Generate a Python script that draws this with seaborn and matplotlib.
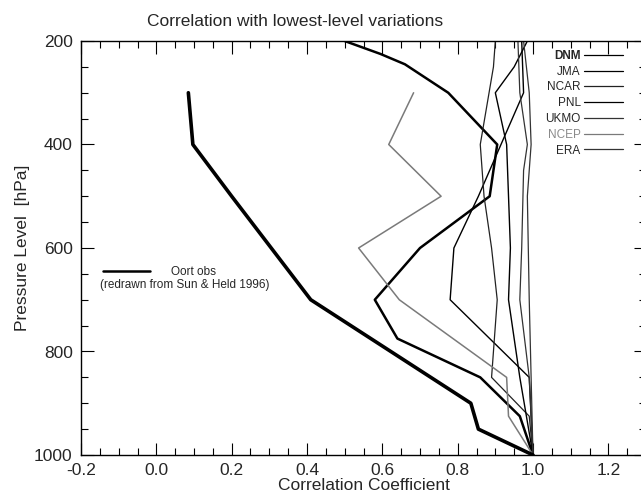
import numpy as np
import pandas as pd
import matplotlib
matplotlib.use("Agg")
import matplotlib.pyplot as plt
from matplotlib.ticker import MultipleLocator, FormatStrFormatter
import seaborn as sns

# correlation of each level with the lowest level (1000 hPa)
oort_p = [300, 400, 500, 700, 900, 950, 1000]
oort_r = [0.085, 0.097, 0.20, 0.41, 0.835, 0.855, 1.0]

dnm_p = [200, 225, 245, 300, 400, 500, 600, 700, 775, 850, 925, 1000]
dnm_r = [0.50, 0.595, 0.66, 0.775, 0.905, 0.885, 0.70, 0.58, 0.64, 0.86, 0.965, 1.0]

jma_p = [200, 300, 400, 500, 600, 700, 850, 925, 1000]
jma_r = [0.97, 0.975, 0.915, 0.855, 0.79, 0.78, 0.99, 0.995, 1.0]

ncar_p = [200, 250, 400, 500, 600, 700, 850, 925, 1000]
ncar_r = [0.90, 0.895, 0.86, 0.87, 0.89, 0.905, 0.89, 0.99, 1.0]

pnl_p = [200, 250, 300, 400, 600, 700, 850, 1000]
pnl_r = [0.985, 0.95, 0.90, 0.93, 0.94, 0.935, 0.965, 1.0]

ukmo_p = [200, 300, 400, 450, 600, 700, 850, 1000]
ukmo_r = [0.96, 0.965, 0.985, 0.975, 0.97, 0.965, 0.99, 1.0]

ncep_p = [300, 400, 500, 600, 700, 850, 925, 1000]
ncep_r = [0.683, 0.617, 0.756, 0.537, 0.645, 0.93, 0.935, 1.0]

era_p = [200, 300, 400, 500, 700, 850, 1000]
era_r = [0.975, 0.99, 0.995, 0.985, 0.99, 0.995, 1.0]

models = ["DNM", "JMA", "NCAR", "PNL", "UKMO", "NCEP", "ERA"]
model_p = [dnm_p, jma_p, ncar_p, pnl_p, ukmo_p, ncep_p, era_p]
model_r = [dnm_r, jma_r, ncar_r, pnl_r, ukmo_r, ncep_r, era_r]

sns.set_theme(style="ticks")
plt.rcParams['font.family'] = ['Liberation Sans', 'DejaVu Sans']
plt.rcParams['axes.unicode_minus'] = False

fig = plt.figure(figsize=(6.41, 4.98), dpi=100)
ax = fig.add_axes([81 / 641, 1 - 455 / 498, (646 - 81) / 641, (455 - 41) / 498])

# line look for each model
widths = {"DNM": 1.8, "JMA": 1.0, "NCAR": 0.9, "PNL": 1.0, "UKMO": 0.9, "NCEP": 1.1, "ERA": 0.9}
colors = {"DNM": "black", "JMA": "black", "NCAR": "#222222", "PNL": "black",
          "UKMO": "#333333", "NCEP": "#7a7a7a", "ERA": "#333333"}

handles = []
for name, p, r in zip(models, model_p, model_r):
    df = pd.DataFrame({"r": r, "p": p})
    sns.lineplot(data=df, x="r", y="p", orient="y", estimator=None, sort=False,
                 color=colors[name], linewidth=widths[name], ax=ax)
    handles.append(ax.lines[-1])

oort = pd.DataFrame({"r": oort_r, "p": oort_p})
sns.lineplot(data=oort, x="r", y="p", orient="y", estimator=None, sort=False,
             color="black", linewidth=2.6, ax=ax)
oort_line = ax.lines[-1]

ax.set_xlim(-0.2, 1.3)
ax.set_ylim(1000, 200)
ax.xaxis.set_major_locator(MultipleLocator(0.2))
ax.xaxis.set_minor_locator(MultipleLocator(0.05))
ax.xaxis.set_major_formatter(FormatStrFormatter("%.1f"))
ax.yaxis.set_major_locator(MultipleLocator(200))
ax.yaxis.set_minor_locator(MultipleLocator(50))
ax.tick_params(which="both", direction="in", top=True, right=True,
               width=0.8, color="black", labelsize=12.5, pad=6)
ax.tick_params(which="major", length=9)
ax.tick_params(which="minor", length=5)
for s in ax.spines.values():
    s.set_linewidth(1.0)
    s.set_color("black")

ax.set_title("Correlation with lowest-level variations", fontsize=12.5, pad=11,
             x=(295 - 81) / 565)
ax.set_xlabel("Correlation Coefficient", fontsize=12.5, labelpad=0)
ax.set_ylabel("Pressure Level  [hPa]", fontsize=12.5, labelpad=3)

# model legend, top right
leg = ax.legend(handles, models, loc="upper right", bbox_to_anchor=(0.968, 0.99),
                markerfirst=False, frameon=False, fontsize=8.5, handlelength=3.3,
                handletextpad=0.3, labelspacing=0.32, borderaxespad=0)
for t, name in zip(leg.get_texts(), models):
    if name == "DNM":
        t.set_fontweight("bold")
    if name == "NCEP":
        t.set_color("#8a8a8a")
for h in leg.get_lines():
    h.set_linewidth(0.9)
ax.add_artist(leg)

# Oort legend, left side
leg2 = ax.legend([oort_line], ["Oort obs"], loc="upper left", bbox_to_anchor=(0.03, 0.468),
                 frameon=False, fontsize=8.5, handlelength=4.0, handletextpad=1.8,
                 borderaxespad=0)
leg2.get_lines()[0].set_linewidth(1.8)
ax.text(0.033, 0.424, "(redrawn from Sun & Held 1996)", transform=ax.transAxes,
        fontsize=8.5, va="top", ha="left")

fig.savefig("out.png", dpi=100)
